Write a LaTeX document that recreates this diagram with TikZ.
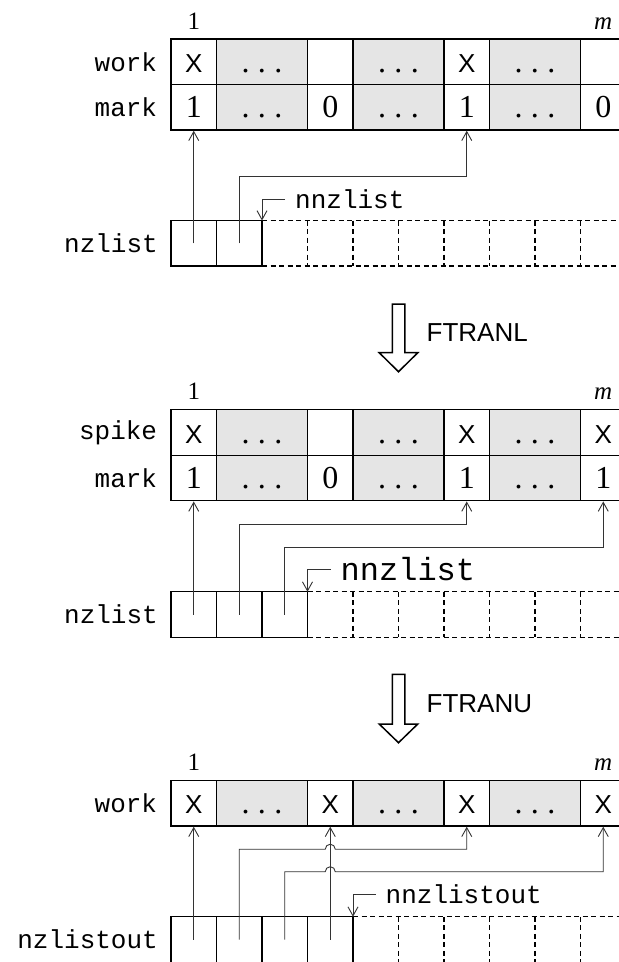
\documentclass[tikz,border=0pt]{standalone}
\usepackage{fontspec}
\setmainfont{Liberation Serif}
\setsansfont{Liberation Sans}
\setmonofont{Liberation Mono}
\usetikzlibrary{arrows.meta,positioning}
\newcommand{\cx}{{\sffamily\fontsize{26}{26}\selectfont X}}
\newcommand{\cdotsrow}{.\hspace{0.26em}.\hspace{0.26em}.}

\begin{document}
\begin{tikzpicture}[
  x=1pt, y=1pt,
  cell/.style={draw, line width=1.4pt, fill=white, minimum width=45.5pt, minimum height=45.5pt, inner sep=0pt, text height=21pt, text depth=0pt, font=\fontsize{32}{32}\selectfont},
  gap/.style={cell, fill=black!10, minimum width=91pt},
  slot/.style={draw, line width=1.4pt, minimum width=45.5pt, minimum height=45.5pt, inner sep=0pt, outer sep=0pt},
  free/.style={line width=1.3pt, dash pattern=on 5pt off 3.5pt},
  arrlabel/.style={font=\ttfamily\fontsize{26}{26}\selectfont, inner sep=3pt, left=10pt of #1},
  idx/.style={font=\fontsize{25}{25}\selectfont, inner sep=0pt, above=9pt of #1},
  ref/.style={-{Straight Barb[length=9pt,width=10pt]}, line width=0.9pt, black!80},
  ptr/.style={font=\ttfamily\fontsize{26}{26}\selectfont, inner xsep=10pt, inner ysep=0pt, anchor=west},
  flow/.style={line width=1.5pt, fill=white, line join=miter},
  op/.style={font=\sffamily\fontsize{26}{26}\selectfont, inner sep=0pt, anchor=west},
]
\useasboundingbox (0,0) rectangle (619,-962);
% first state: work / mark before FTRANL
\foreach \i/\x/\t in {1/193.75/\cx, 3/330.25/, 5/466.75/\cx, 7/603.25/} \node[cell] (workA\i) at (\x,-61.75) {\t};
\foreach \i/\x in {2/262,4/398.5,6/535} \node[gap] (workA\i) at (\x,-61.75) {\cdotsrow};
\foreach \i/\x/\t in {1/193.75/1, 3/330.25/0, 5/466.75/1, 7/603.25/0} \node[cell] (markA\i) at (\x,-107.25) {\t};
\foreach \i/\x in {2/262,4/398.5,6/535} \node[gap] (markA\i) at (\x,-107.25) {\cdotsrow};
\node[idx=workA1] (oneA) {1};
\node[idx=workA7] (mA) {\textit{m}};
\node[arrlabel=workA1] (lworkA) {work};
\node[arrlabel=markA1] (lmarkA) {mark};
\foreach \i/\x in {1/193.75, 2/239.25} \node[slot] (nzA\i) at (\x,-243.3) {};
\draw[free] (nzA2.north east) -- ++(370,0) (nzA2.south east) -- ++(370,0);
\foreach \k in {1,...,7} \draw[free] ([xshift=\k*45.5pt]nzA2.north east) -- ([xshift=\k*45.5pt]nzA2.south east);
\node[arrlabel=nzA1] (lnzA) {nzlist};
\node[ptr] (nnzA) at ([xshift=23pt,yshift=21.5pt]nzA2.north east) {nnzlist};
\draw[ref] (nnzA.west) -| (nzA2.north east);
\draw[ref] (nzA1.center) -- (markA1.south);
\draw[ref] (nzA2.center) |- ([yshift=-45.7pt]markA5.south) -- (markA5.south);
% FTRANL
\draw[flow] (392.25,-304) -- (404.75,-304) -- (404.75,-352.7) -- (417.8,-352.7) -- (398.5,-371.7) -- (379.2,-352.7) -- (392.25,-352.7) -- cycle;
\node[op] (ftranl) at (426.5,-332.8) {FTRANL};
% second state: spike / mark after FTRANL
\foreach \i/\x/\t in {1/193.75/\cx, 3/330.25/, 5/466.75/\cx, 7/603.25/\cx} \node[cell] (spikeB\i) at (\x,-432.5) {\t};
\foreach \i/\x in {2/262,4/398.5,6/535} \node[gap] (spikeB\i) at (\x,-432.5) {\cdotsrow};
\foreach \i/\x/\t in {1/193.75/1, 3/330.25/0, 5/466.75/1, 7/603.25/1} \node[cell] (markB\i) at (\x,-478) {\t};
\foreach \i/\x in {2/262,4/398.5,6/535} \node[gap] (markB\i) at (\x,-478) {\cdotsrow};
\node[idx=spikeB1] (oneB) {1};
\node[idx=spikeB7] (mB) {\textit{m}};
\node[arrlabel=spikeB1] (lspikeB) {spike};
\node[arrlabel=markB1] (lmarkB) {mark};
\foreach \i/\x in {1/193.75, 2/239.25, 3/284.75} \node[slot] (nzB\i) at (\x,-614.5) {};
\draw[free] (nzB3.north east) -- ++(330,0) (nzB3.south east) -- ++(330,0);
\foreach \k in {1,...,6} \draw[free] ([xshift=\k*45.5pt]nzB3.north east) -- ([xshift=\k*45.5pt]nzB3.south east);
\node[arrlabel=nzB1] (lnzB) {nzlist};
\node[ptr, font=\ttfamily\fontsize{32}{32}\selectfont] (nnzB) at ([xshift=23pt,yshift=22.7pt]nzB3.north east) {nnzlist};
\draw[ref] (nnzB.west) -| (nzB3.north east);
\draw[ref] (nzB1.center) -- (markB1.south);
\draw[ref] (nzB2.center) |- ([yshift=-22.7pt]markB5.south) -- (markB5.south);
\draw[ref] (nzB3.center) |- ([yshift=-45.7pt]markB7.south) -- (markB7.south);
% FTRANU
\draw[flow] (392.25,-674.3) -- (404.75,-674.3) -- (404.75,-724) -- (417.8,-724) -- (398.5,-742.7) -- (379.2,-724) -- (392.25,-724) -- cycle;
\node[op] (ftranu) at (426.5,-703.3) {FTRANU};
% third state: work after FTRANU
\foreach \i/\x in {1/193.75, 3/330.25, 5/466.75, 7/603.25} \node[cell] (workC\i) at (\x,-803.25) {\cx};
\foreach \i/\x in {2/262,4/398.5,6/535} \node[gap] (workC\i) at (\x,-803.25) {\cdotsrow};
\node[idx=workC1] (oneC) {1};
\node[idx=workC7] (mC) {\textit{m}};
\node[arrlabel=workC1] (lworkC) {work};
\foreach \i/\x in {1/193.75, 2/239.25, 3/284.75, 4/330.25} \node[slot] (nzC\i) at (\x,-939.5) {};
\draw[free] (nzC4.north east) -- ++(290,0) (nzC4.south east) -- ++(290,0);
\foreach \k in {1,...,5} \draw[free] ([xshift=\k*45.5pt]nzC4.north east) -- ([xshift=\k*45.5pt]nzC4.south east);
\node[arrlabel=nzC1] (lnzC) {nzlistout};
\node[ptr] (nnzC) at ([xshift=22.5pt,yshift=22.7pt]nzC4.north east) {nnzlistout};
\draw[ref] (nnzC.west) -| (nzC4.north east);
\draw[ref] (nzC1.center) -- (workC1.south);
\draw[ref] (nzC2.center) |- ([xshift=-5pt,yshift=-22.5pt]workC3.south) arc[start angle=180, end angle=0, radius=5pt] -| (workC5.south);
\draw[ref] (nzC3.center) |- ([xshift=-5pt,yshift=-45pt]workC3.south) arc[start angle=180, end angle=0, radius=5pt] -| (workC7.south);
\draw[ref] (nzC4.center) -- (workC3.south);
\end{tikzpicture}
\end{document}
